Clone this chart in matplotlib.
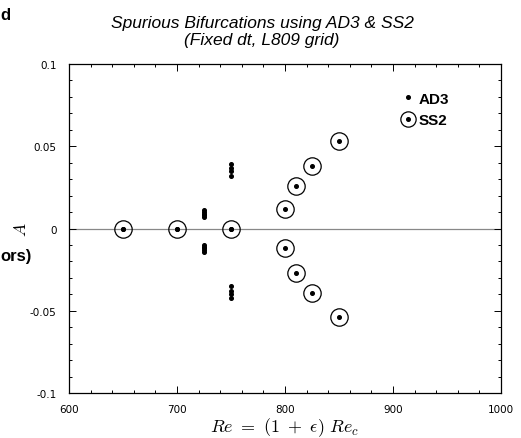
import matplotlib
matplotlib.use("Agg")
import matplotlib.pyplot as plt
from matplotlib.ticker import MultipleLocator
from matplotlib.lines import Line2D

plt.rcParams["mathtext.fontset"] = "cm"

# SS2 solutions (circled points)
ss2_re = [650, 700, 750, 800, 800, 810, 810, 825, 825, 850, 850]
ss2_a = [0.0, 0.0, 0.0, 0.012, -0.012, 0.026, -0.027, 0.038, -0.039, 0.053, -0.054]

# AD3 solutions (small dots)
ad3_re = [650, 700, 750,
          725, 725, 725, 725, 725,
          725, 725, 725, 725, 725,
          750, 750, 750, 750,
          750, 750, 750, 750]
ad3_a = [0.0, 0.0, 0.0,
         0.007, 0.008, 0.009, 0.010, 0.011,
         -0.010, -0.011, -0.012, -0.013, -0.014,
         0.032, 0.035, 0.037, 0.039,
         -0.035, -0.038, -0.040, -0.042]

title = "Spurious Bifurcations using AD3 & SS2\n(Fixed dt, L809 grid)"
xticks = [600, 700, 800, 900, 1000]
yticks = [-0.1, -0.05, 0, 0.05, 0.1]
yticklabels = ["-0.1", "-0.05", "0", "0.05", "0.1"]

fig = plt.figure(figsize=(5.21, 4.39), dpi=100)
ax = fig.add_axes([0.1324, 0.1025, 0.8292, 0.7494])

ax.axhline(0, color="#888888", lw=0.9, zorder=1)

ax.plot(ss2_re, ss2_a, linestyle="none", marker="o", ms=12.5, mfc="none",
        mec="black", mew=0.9, zorder=3)
ax.plot(ss2_re, ss2_a, linestyle="none", marker="o", ms=2.6, mfc="black",
        mec="black", zorder=4)
ax.plot(ad3_re, ad3_a, linestyle="none", marker="o", ms=2.6, mfc="black",
        mec="black", zorder=4)

ax.set_xlim(600, 1000)
ax.set_ylim(-0.1, 0.1)
ax.set_xticks(xticks)
ax.set_yticks(yticks)
ax.set_yticklabels(yticklabels)
ax.xaxis.set_minor_locator(MultipleLocator(20))
ax.yaxis.set_minor_locator(MultipleLocator(0.01))
ax.tick_params(which="both", direction="in", top=True, right=True,
               labelsize=7.5, width=0.7)
ax.tick_params(axis="x", pad=8)
ax.tick_params(axis="y", pad=9)
ax.tick_params(which="major", length=5)
ax.tick_params(which="minor", length=2.5)
for s in ax.spines.values():
    s.set_linewidth(0.9)

fig.text(0.503, 0.963, title, fontsize=12.5, style="italic", fontfamily="Liberation Sans",
         linespacing=1.15, ha="center", va="top")
ax.set_xlabel(r"$Re\ =\ (1\ +\ \epsilon)\ Re_c$", fontsize=13, labelpad=1)
ax.set_ylabel(r"$A$", fontsize=12.5)
ax.yaxis.set_label_coords(-0.09, 0.5)

# legend
dot = Line2D([], [], linestyle="none", marker="o", ms=2.6, mfc="black", mec="black")
ring = Line2D([], [], linestyle="none", marker="o", ms=11, mfc="none", mec="black", mew=0.9)
leg = ax.legend([dot, (ring, dot)], ["AD3", "SS2"], loc="upper right",
                bbox_to_anchor=(0.895, 0.935), frameon=False, handlelength=0.8,
                handletextpad=0.3, labelspacing=0.5, borderaxespad=0,
                prop={"family": "Liberation Sans", "weight": "bold", "size": 11})

# clipped text fragments at the left edge
fig.text(0.0, 0.965, "d", fontsize=12, fontweight="bold", fontfamily="Liberation Sans",
         ha="left", va="center")
fig.text(0.0, 0.415, "ors)", fontsize=12, fontweight="bold", fontfamily="Liberation Sans",
         ha="left", va="center")

fig.savefig("out.png", dpi=100)
